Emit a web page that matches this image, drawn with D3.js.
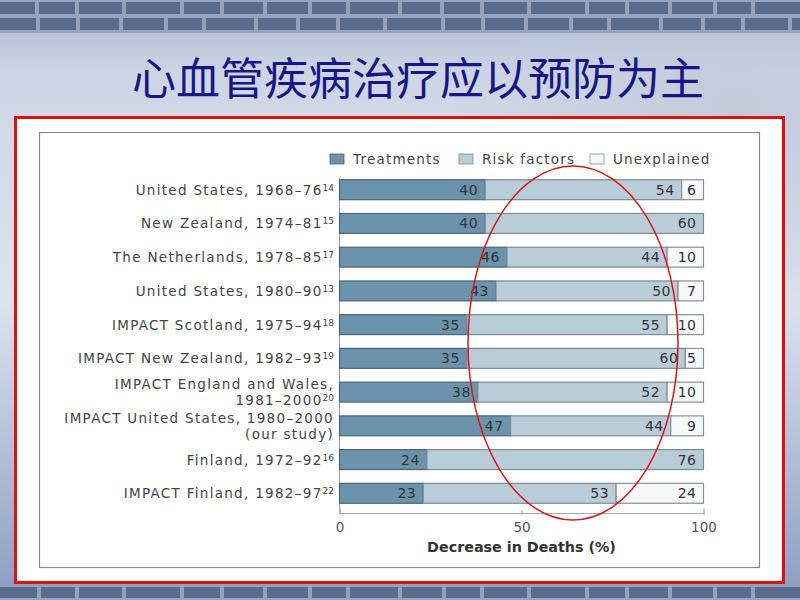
<!DOCTYPE html>
<html><head><meta charset="utf-8">
<script src="https://cdn.jsdelivr.net/npm/d3@7"></script>
<style>body{margin:0;padding:0;overflow:hidden;background:#fff}</style>
</head><body>
<script>
const categories = [
  ["United States, 1968\u201376", "14"],
  ["New Zealand, 1974\u201381", "15"],
  ["The Netherlands, 1978\u201385", "17"],
  ["United States, 1980\u201390", "13"],
  ["IMPACT Scotland, 1975\u201394", "18"],
  ["IMPACT New Zealand, 1982\u201393", "19"],
  ["IMPACT England and Wales,|1981\u20132000", "20"],
  ["IMPACT United States, 1980\u20132000|(our study)", ""],
  ["Finland, 1972\u201392", "16"],
  ["IMPACT Finland, 1982\u201397", "22"]
];
const treatments = [40, 40, 46, 43, 35, 35, 38, 47, 24, 23];
const riskFactors = [54, 60, 44, 50, 55, 60, 52, 44, 76, 53];
const unexplained = [6, 0, 10, 7, 10, 5, 10, 9, 0, 24];
const seriesNames = ["Treatments", "Risk factors", "Unexplained"];
const xTicks = [0, 50, 100];
const titleText = "心血管疾病治疗应以预防为主";
const axisTitle = "Decrease in Deaths (%)";

const W = 800, H = 600;
const svg = d3.select("body").append("svg").attr("width", W).attr("height", H);
const defs = svg.append("defs");

// slide background
const bg = defs.append("linearGradient").attr("id","bg").attr("x1",0).attr("y1",0).attr("x2",0).attr("y2",1);
bg.append("stop").attr("offset","0").attr("stop-color","#a9b5cd");
bg.append("stop").attr("offset","0.12").attr("stop-color","#cdd5e4");
bg.append("stop").attr("offset","0.5").attr("stop-color","#dde3ee");
bg.append("stop").attr("offset","1").attr("stop-color","#8a9cc0");
svg.append("rect").attr("width",W).attr("height",H).attr("fill","url(#bg)");
const rg = defs.append("radialGradient").attr("id","glow").attr("cx","0.92").attr("cy","0.2").attr("r","0.35");
rg.append("stop").attr("offset","0").attr("stop-color","#c0c8d8").attr("stop-opacity",0.8);
rg.append("stop").attr("offset","1").attr("stop-color","#c0c8d8").attr("stop-opacity",0);
svg.append("rect").attr("width",W).attr("height",H).attr("fill","url(#glow)");

// brick bands
function bricks(y0, h, rowH, widths) {
  const g = svg.append("g");
  g.append("rect").attr("x",0).attr("y",y0).attr("width",W).attr("height",h).attr("fill","#95a2bb");
  let row = 0;
  for (let y = y0; y < y0 + h; y += rowH, row++) {
    let x = row % 2 ? -20 : -5, i = row * 3;
    while (x < W) {
      const bw = widths[i % widths.length]; i++;
      g.append("rect").attr("x", x + 2).attr("y", y + 2).attr("width", bw - 4)
        .attr("height", Math.min(rowH, y0 + h - y) - 4).attr("fill", "#5b6b8c");
      x += bw;
    }
  }
}
bricks(0, 33, 16, [42, 40, 47, 58, 40, 43, 45, 38, 52]);
bricks(585, 15, 15, [44, 38, 47, 58, 40, 43, 45, 38, 52]);

// title
svg.append("text").attr("x", 418).attr("y", 95).attr("text-anchor","middle")
  .attr("font-family","'Noto Sans CJK SC', sans-serif").attr("font-size", 44)
  .attr("fill","#16168a").text(titleText);

// red frame
svg.append("rect").attr("x",15.5).attr("y",117.5).attr("width",768).attr("height",465)
  .attr("fill","#fff").attr("stroke","#e01010").attr("stroke-width",3);
svg.append("rect").attr("x",39.5).attr("y",132.5).attr("width",720).attr("height",435)
  .attr("fill","#fff").attr("stroke","#8a8a8a").attr("stroke-width",1.2);

// chart
const x = d3.scaleLinear().domain([0, 100]).range([339.5, 703.5]);
const y = d3.scaleBand().domain(d3.range(categories.length)).range([173, 510]).paddingInner(0.41).paddingOuter(0.2);
const colors = ["#6b93ab", "#b9cdd9", "#f6f8fa"];
const strokes = ["#4b6478", "#7b8a95", "#8a8f94"];
const font = "'DejaVu Sans', 'Open Sans', sans-serif";

const data = categories.map((c, i) => ({i, vals: [treatments[i], riskFactors[i], unexplained[i]]}));
const stack = data.map(d => { let s = 0; return d.vals.map((v, k) => { const r = {i: d.i, k, v, x0: s, x1: s + v}; s += v; return r; }); });

// axis line (y)
svg.append("line").attr("x1", x(0)).attr("x2", x(0)).attr("y1", 178).attr("y2", 513).attr("stroke", "#999");

const rows = svg.append("g");
stack.flat().filter(d => d.v > 0).forEach(d => {
  rows.append("rect").attr("x", x(d.x0)).attr("y", y(d.i)).attr("width", x(d.x1) - x(d.x0))
    .attr("height", y.bandwidth()).attr("fill", colors[d.k]).attr("stroke", strokes[d.k]).attr("stroke-width", 1.2);
});
stack.flat().filter(d => d.v > 0).forEach(d => {
  rows.append("text").attr("x", x(d.x1) - 7).attr("y", y(d.i) + y.bandwidth() / 2 + 5)
    .attr("text-anchor", "end").attr("font-family", font).attr("font-size", 14).attr("letter-spacing", 0.5)
    .attr("fill", "#333").text(d.v);
});

// category labels
categories.forEach((c, i) => {
  const lines = c[0].split("|");
  const cy = y(i) + y.bandwidth() / 2;
  const lh = 16;
  lines.forEach((ln, j) => {
    const yy = cy + 5 + (j - (lines.length - 1) / 2) * lh;
    const t = svg.append("text").attr("x", 334).attr("y", yy).attr("text-anchor", "end")
      .attr("font-family", font).attr("font-size", 13.5).attr("letter-spacing", 1.3).attr("fill", "#444");
    t.append("tspan").text(ln);
    if (j === lines.length - 1 && c[1]) {
      t.append("tspan").attr("dy", -4).attr("font-size", 9).attr("letter-spacing", 0).text(c[1]);
    }
  });
});

// x axis
const xAxis = d3.axisBottom(x).tickValues(xTicks).tickSize(-5).tickPadding(9);
const ga = svg.append("g").attr("transform", "translate(0,513)").call(xAxis);
ga.select(".domain").attr("stroke", "#aaa");
ga.selectAll(".tick line").attr("stroke", "#aaa").attr("transform","translate(0,2)");
ga.selectAll("text").attr("font-family", font).attr("font-size", 13.5).attr("fill", "#555");
svg.append("text").attr("x", x(50)).attr("y", 552).attr("text-anchor", "middle")
  .attr("font-family", font).attr("font-size", 14.3).attr("font-weight", "bold").attr("fill", "#333").text(axisTitle);

// legend
const legX = [330, 459, 590];
seriesNames.forEach((n, k) => {
  svg.append("rect").attr("x", legX[k]).attr("y", 154).attr("width", 14).attr("height", 10)
    .attr("fill", colors[k]).attr("stroke", strokes[k]).attr("stroke-width", 0.8);
  svg.append("text").attr("x", legX[k] + 23).attr("y", 164).attr("font-family", font)
    .attr("font-size", 13.5).attr("letter-spacing", 1.2).attr("fill", "#444").text(n);
});

// red ellipse annotation
svg.append("ellipse").attr("cx", 573).attr("cy", 343).attr("rx", 105).attr("ry", 177)
  .attr("fill", "none").attr("stroke", "#d81818").attr("stroke-width", 1.5);
</script>
</body></html>
